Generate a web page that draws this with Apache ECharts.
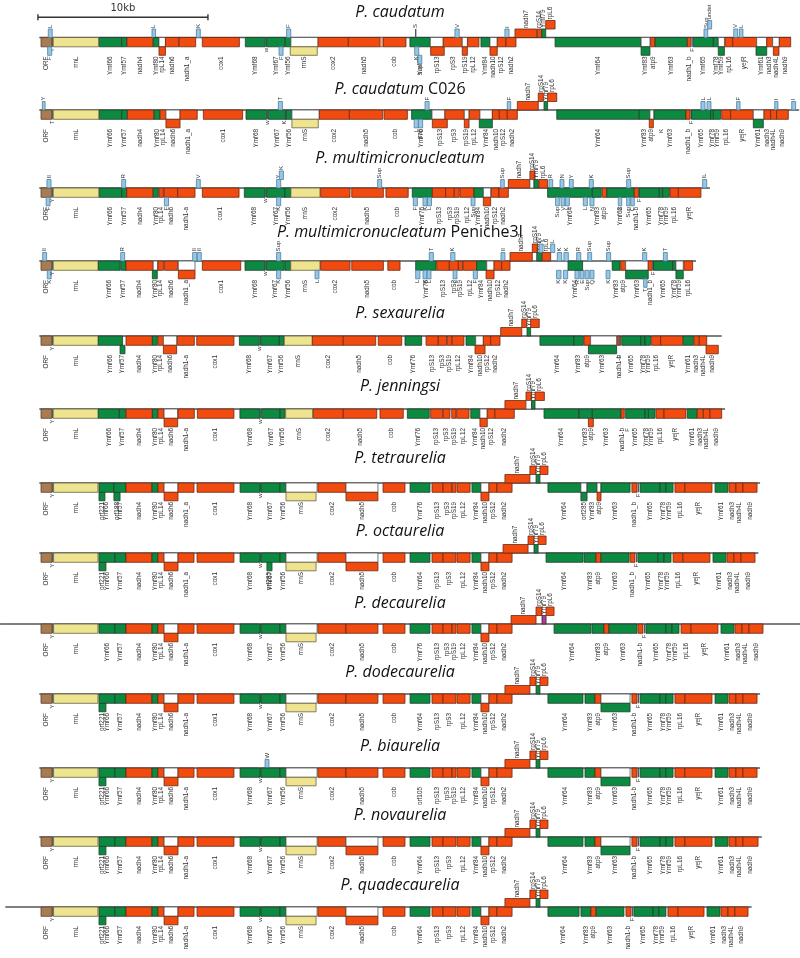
<!DOCTYPE html>
<html><head><meta charset="utf-8">
<script src="https://cdn.jsdelivr.net/npm/echarts@6/dist/echarts.min.js"></script>
<style>html,body{margin:0;padding:0;background:#fff}#c{width:800px;height:958px}</style>
</head><body><div id="c"></div>
<script>
// ---- DATA (positions in kb from genome start) ----
// each gene: [label, startKb, endKb, type, row]
// type: O=ORF, R=rRNA, G=green ORF, P=protein gene, T=tRNA, D=small tRNA, W=empty box, S=small, M=purple
const titles = [
  ['P. caudatum',''],['P. caudatum',' C026'],['P. multimicronucleatum',''],['P. multimicronucleatum',' Peniche3I'],
  ['P. sexaurelia',''],['P. jenningsi',''],['P. tetraurelia',''],['P. octaurelia',''],['P. decaurelia',''],
  ['P. dodecaurelia',''],['P. biaurelia',''],['P. novaurelia',''],['P. quadecaurelia','']
];
const lineSpan = [[-0.1,44.12],[-0.1,44.6],[-0.1,39.35],[-0.1,38.53],[-0.1,40.04],[-0.1,40.24],[-0.1,42.3],
  [-0.1,42.2],[-2.41,44.65],[-0.1,42.3],[-0.1,42.3],[-0.1,42.4],[-2.1,41.8]];
const scaleBar = [-0.18, 9.82];

const caudatum = [
['ORF',0,0.63,'O',0],['Y',0.63,0.72,'D',0],['L',0.43,0.66,'T',-1],['F',0.39,0.63,'T',1],['rrnL',0.72,3.39,'R',0],
['Ymf66',3.43,4.75,'G',0],['Ymf57',4.75,5.04,'G',0],['nadh4',5.06,6.6,'P',0],['L',6.53,6.74,'T',-1],['Ymf80',6.6,6.94,'G',0],
['',6.94,7.32,'W',0],['rpL14',6.94,7.32,'P',1],['nadh6',7.32,8.1,'P',0],['nadh1_a',8.12,9.1,'P',0],['K',9.14,9.37,'T',-1],
['cox1',9.49,11.67,'P',0],['Ymf68',12.02,13.19,'G',0],['w',13.19,13.27,'D',0],['Ymf67',13.27,14.35,'G',0],['F',14.0,14.24,'T',1],
['Ymf56',14.38,14.7,'G',0],['F',14.45,14.69,'T',-1],['',14.7,16.3,'W',0],['rrnS',14.66,16.25,'R',1],['cox2',16.3,18.08,'P',0],
['nadh5',18.08,19.94,'P',0],['',19.94,20.14,'S',0],['cob',20.14,21.47,'P',0],['Ymf76',21.7,22.9,'G',0],['S',22.0,22.08,'D',-1],
['K',21.98,22.22,'T',1],['Sup',22.18,22.4,'T',2],['',22.9,23.66,'W',0],['rpS13',22.92,23.72,'P',1],['rpS3',23.66,24.78,'P',0],
['V',24.35,24.6,'T',-1],['',24.78,25.08,'W',0],['rpS19',24.78,25.08,'P',1],['rpL12',25.1,25.76,'P',0],['Ymf84',25.88,26.41,'G',0],
['',26.41,26.84,'W',0],['nadh10',26.41,26.84,'P',1],['rpS12',26.84,27.35,'P',0],['I',27.29,27.53,'T',-1],['nadh2',27.35,27.94,'P',0],
['nadh7',27.88,29.16,'P',-1],['rpS14',29.2,29.45,'P',-1],['Ymf79',29.45,29.69,'G',-1],['rpL6',29.69,30.24,'P',-2],
['Ymf64',30.24,35.3,'G',0],['',35.3,35.82,'W',0],['Ymf83',35.3,35.82,'G',1],['atp9',35.86,36.12,'P',0],['Ymf63',36.12,38.02,'G',0],
['nadh1_b',38.02,38.22,'P',0],['F',38.26,38.32,'D',0],['Ymf65',38.37,39.55,'G',0],['Sup',39.0,39.22,'T',-1],['undet',39.22,39.45,'T',-2],
['Ymf78',39.55,39.84,'G',0],['',39.84,40.2,'W',0],['Ymf59',39.84,40.2,'G',1],['rpL16',40.24,40.69,'P',0],['yejR',40.69,42.1,'P',0],
['V',40.75,40.98,'T',-1],['L',41.08,41.29,'T',-1],['',42.1,42.69,'W',0],['Ymf61',42.06,42.69,'G',1],['nadh3',42.69,43.04,'P',0],
['',43.04,43.43,'W',0],['nadh4L',43.08,43.41,'P',1],['nadh9',43.43,44.1,'P',0]
];
const caudatumC026 = [
['ORF',0,0.63,'O',0],['Y',0.08,0.24,'T',-1],['T',0.63,0.72,'D',0],['rrnL',0.72,3.41,'R',0],['Ymf66',3.43,4.75,'G',0],
['Ymf57',4.75,5.08,'G',0],['nadh4',5.08,6.65,'P',0],['Ymf80',6.65,7.0,'G',0],['rpL14',7.0,7.35,'P',0],['',7.35,8.18,'W',0],
['nadh6',7.35,8.18,'P',1],['nadh1_a',8.18,9.19,'P',0],['cox1',9.55,11.86,'P',0],['Ymf68',12.06,13.27,'G',0],['w',13.27,13.35,'D',0],
['Ymf67',13.37,14.41,'G',0],['T',13.96,14.2,'T',-1],['K',14.3,14.38,'D',0],['Ymf56',14.41,14.76,'G',0],['',14.76,16.37,'W',0],
['rrnS',14.76,16.31,'R',1],['cox2',16.37,18.14,'P',0],['nadh5',18.14,20.1,'P',0],['cob',20.18,21.55,'P',0],['Ymf76',21.8,22.98,'G',0],
['F',22.59,22.83,'T',-1],['L',21.95,22.2,'T',1],['Sup',22.2,22.45,'T',1],['',23.0,23.76,'W',0],['rpS13',23.02,23.9,'P',1],
['rpS3',23.76,24.9,'P',0],['',24.9,25.18,'W',0],['rpS19',24.9,25.18,'P',1],['rpL12',25.19,25.82,'P',0],['',25.82,26.55,'W',0],
['Ymf84',25.78,26.55,'G',1],['nadh10',26.55,26.96,'P',0],['rpS12',26.96,27.43,'P',0],['F',27.43,27.63,'T',-1],['nadh2',27.43,28.02,'P',0],
['nadh7',28.02,29.25,'P',-1],['rpS14',29.25,29.55,'P',-2],['Ymf79',29.59,29.8,'G',-1],['rpL6',29.8,30.34,'P',-2],
['Ymf64',30.34,35.19,'G',0],['Ymf83',35.19,35.82,'G',0],['',35.82,36.06,'W',0],['atp9',35.78,36.02,'P',1],['K',36.45,36.52,'D',1],
['Ymf63',36.06,37.94,'G',0],['nadh1_b',37.94,38.18,'P',0],['F',38.2,38.26,'D',0],['Ymf65',38.27,39.39,'G',0],['L',38.82,39.06,'T',-1],
['L',39.18,39.41,'T',-1],['Ymf78',39.39,39.55,'G',0],['Ymf59',39.55,39.98,'G',0],['rpL16',40.04,40.57,'P',0],['yejR',40.57,41.9,'P',0],
['F',40.92,41.12,'T',-1],['',41.9,42.53,'W',0],['Ymf61',41.9,42.49,'G',1],['nadh3',42.53,42.92,'P',0],['nadh4L',42.92,43.27,'P',0],
['I',43.16,43.35,'T',-1],['nadh9',43.27,43.96,'P',0],['I',44.16,44.39,'T',-1]
];
const multimicronucleatum = [
['ORF',0,0.63,'O',0],['II',0.35,0.59,'T',-1],['F',0.3,0.53,'T',1],['Y',0.63,0.72,'D',0],['rrnL',0.72,3.41,'R',0],
['Ymf66',3.43,4.75,'G',0],['Ymf57',4.75,5.04,'G',0],['R',4.75,4.98,'T',-1],['nadh4',5.04,6.6,'P',0],['Ymf80',6.6,6.9,'G',0],
['rpL14',6.94,7.2,'P',0],['nadh6',7.24,8.04,'P',0],['F',7.26,7.5,'T',1],['nadh1-a',8.04,9.06,'P',0],['V',9.14,9.37,'T',-1],
['cox1',9.49,11.65,'P',0],['Ymf68',11.96,13.18,'G',0],['w',13.18,13.25,'D',0],['Ymf67',13.27,14.35,'G',0],['Y',13.86,14.1,'T',-1],
['K',14.02,14.26,'T',-2],['K',13.86,14.1,'T',1],['Ymf56',14.35,14.69,'G',0],['rrnS',14.7,16.41,'R',0],['cox2',16.45,18.18,'P',0],
['nadh5',18.28,20.14,'P',0],['Sup',19.8,20.04,'T',-1],['cob',20.29,21.6,'P',0],['Ymf76',21.84,23.02,'G',0],['F',21.9,22.14,'T',1],
['K',22.47,22.71,'T',1],['L',22.73,22.97,'T',1],['rpS13',23.02,23.8,'P',0],['rpS3',23.8,24.31,'P',0],['rpS19',24.31,24.6,'P',0],
['rpL12',24.65,25.47,'P',0],['Sup',25.3,25.53,'T',1],['Ymf84',25.47,26.02,'G',0],['',26.02,26.45,'W',0],['nadh10',26.02,26.45,'P',1],
['rpS12',26.49,26.94,'P',0],['nadh2',26.94,27.49,'P',0],['Sup',27.04,27.25,'T',-1],['nadh7',27.49,28.76,'P',-1],['rpS14',28.76,29.06,'P',-2],
['',28.76,29.0,'W',-1],['Ymf79',29.0,29.25,'G',-1],['rpL6',29.29,29.8,'P',-1],['R',29.88,30.1,'T',-1],['Ymf64',29.8,32.43,'G',0],
['N',30.53,30.76,'T',-1],['Y',31.08,31.31,'T',-1],['K',32.25,32.49,'T',-1],['Sup',30.27,30.49,'T',1],['V',30.59,30.82,'T',1],
['L',30.84,31.08,'T',1],['L',31.9,32.14,'T',1],['N',32.29,32.53,'T',1],['Ymf83',32.43,32.96,'G',0],['atp9',33.02,33.28,'P',0],
['Ymf63',33.28,34.9,'G',0],['Sup',34.45,34.69,'T',-1],['E',33.96,34.16,'T',1],['Sup',34.45,34.65,'T',1],['C',34.69,34.9,'T',1],
['nadh1-b',34.9,35.14,'P',0],['F',35.16,35.22,'D',0],['Ymf65',35.19,36.37,'G',0],['Ymf78',36.37,36.57,'G',0],['Ymf59',36.57,36.96,'G',0],
['rpL16',37.0,37.49,'P',0],['yejR',37.49,38.82,'P',0],['IL',38.92,39.16,'T',-1]
];
const peniche3I = [
['ORF',0,0.63,'O',0],['II',0.1,0.33,'T',-1],['K',0.37,0.6,'T',1],['Y',0.63,0.72,'D',0],['rrnL',0.72,3.37,'R',0],
['Ymf66',3.37,4.65,'G',0],['Ymf57',4.69,5.0,'G',0],['R',4.69,4.92,'T',-1],['nadh4',5.0,6.6,'P',0],['',6.6,6.86,'W',0],
['Ymf80',6.55,6.84,'G',1],['rpL14',6.88,7.2,'P',0],['nadh6',7.26,8.04,'P',0],['',8.08,9.06,'W',0],['nadh1_a',8.08,9.06,'P',1],
['II',8.92,9.16,'T',-1],['II',9.2,9.43,'T',-1],['cox1',9.49,11.75,'P',0],['Ymf68',12.0,13.18,'G',0],['w',13.18,13.25,'D',0],
['Ymf67',13.27,14.31,'G',0],['Sup',13.86,14.1,'T',-1],['K',13.86,14.1,'T',1],['Ymf56',14.35,14.69,'G',0],['rrnS',14.69,16.41,'R',0],
['L',16.12,16.35,'T',1],['cox2',16.45,18.18,'P',0],['nadh5',18.28,20.14,'P',0],['cob',20.4,21.12,'P',0],['Ymf76',22.04,23.24,'G',0],
['T',22.84,23.08,'T',-1],['L',22.04,22.29,'T',1],['K',22.47,22.71,'T',1],['L',22.71,22.94,'T',1],['rpS13',23.28,24.02,'P',0],
['rpS3',24.02,24.55,'P',0],['K',24.1,24.35,'T',-1],['L',24.24,24.47,'T',1],['rpS19',24.55,24.8,'P',0],['rpL12',24.84,25.63,'P',0],
['F',25.43,25.67,'T',1],['Ymf84',25.63,26.22,'G',0],['',26.22,26.65,'W',0],['nadh10',26.18,26.65,'P',1],['rpS12',26.65,27.1,'P',0],
['II',27.06,27.29,'T',-1],['nadh2',27.1,27.59,'P',0],['nadh7',27.59,28.9,'P',-1],['rpS14',28.9,29.22,'P',-2],['Ymf79',29.16,29.45,'G',-1],
['V',29.3,29.53,'T',-2],['rpL6',29.49,29.98,'P',-1],['L',29.98,30.22,'T',-2],['K',30.37,30.63,'T',-1],['K',30.76,31.02,'T',-1],
['R',31.51,31.75,'T',-1],['Sup',32.16,32.39,'T',-1],['Sup',33.27,33.51,'T',-1],['K',30.33,30.59,'T',1],['K',30.73,30.98,'T',1],
['R',31.41,31.65,'T',1],['E',31.71,31.94,'T',1],['Sup',32.0,32.24,'T',1],['Q',32.29,32.53,'T',1],['K',33.24,33.47,'T',1],
['Ymf64',31.0,31.86,'G',0],['Ymf83',33.6,34.06,'G',0],['atp9',34.1,34.39,'P',0],['',34.39,35.72,'W',0],['Ymf63',34.39,35.72,'G',1],
['K',35.39,35.63,'T',-1],['T',35.45,35.65,'T',2],['nadh1_b',35.72,35.96,'P',0],['F',35.98,36.04,'D',0],['Ymf65',36.02,37.16,'G',0],
['T',36.61,36.84,'T',-1],['Ymf78',37.16,37.35,'G',0],['',37.35,37.78,'W',0],['Ymf59',37.35,37.78,'G',1],['rpL16',37.82,38.33,'P',0]
];
const sexaurelia = [
['ORF',0,0.63,'O',0],['Y',0.63,0.72,'D',0],['rrnL',0.72,3.37,'R',0],['Ymf66',3.37,4.8,'G',0],['Ymf57',4.65,4.94,'G',1],
['nadh4',5.0,6.55,'P',0],['Ymf80',6.55,6.84,'G',0],['rpL14',6.88,7.2,'P',0],['',7.2,7.98,'W',0],['nadh6',7.2,7.98,'P',1],
['nadh1-a',8.02,9.02,'P',0],['cox1',9.16,11.35,'P',0],['Ymf68',11.67,12.84,'G',0],['w',12.84,12.9,'D',0],['Ymf67',12.92,14.02,'G',0],
['Ymf56',14.02,14.3,'G',0],['rrnS',14.31,15.96,'R',0],['cox2',15.96,17.78,'P',0],['nadh5',17.78,19.69,'P',0],['cob',19.84,21.22,'P',0],
['Ymf76',21.41,22.39,'G',0],['rpS13',22.65,23.37,'P',0],['rpS3',23.37,23.86,'P',0],['rpS19',23.9,24.16,'P',0],['rpL12',24.19,24.88,'P',0],
['Ymf84',25.0,25.57,'G',0],['',25.57,26.02,'W',0],['nadh10',25.53,26.12,'P',1],['rpS12',26.02,26.45,'P',0],['nadh2',26.45,27.0,'P',0],
['nadh7',27.04,28.28,'P',-1],['rpS14',28.28,28.57,'P',-2],['Ymf79',28.59,28.8,'G',-1],['rpL6',28.8,29.31,'P',-2],
['Ymf64',29.35,31.35,'G',0],['Ymf83',31.35,31.9,'G',0],['atp9',31.94,32.33,'P',0],['',32.33,33.86,'W',0],['Ymf63',32.2,33.86,'G',1],
['nadh1-b',33.9,34.1,'P',0],['F',33.98,34.04,'D',1],['Ymf65',34.16,35.28,'G',0],['Ymf78',35.28,35.53,'G',0],['Ymf59',35.53,35.86,'G',0],
['rpL16',35.92,36.45,'P',0],['yejR',36.45,37.75,'P',0],['Ymf61',37.78,38.37,'G',0],['nadh3',38.41,38.72,'P',0],['nadh4L',38.72,39.16,'P',0],
['nadh9',39.12,39.84,'P',1]
];
const jenningsi = [
['ORF',0,0.63,'O',0],['Y',0.63,0.72,'D',0],['rrnL',0.72,3.37,'R',0],['Ymf66',3.37,4.61,'G',0],['Ymf57',4.61,4.98,'G',0],
['nadh4',5.0,6.55,'P',0],['Ymf80',6.55,6.86,'G',0],['rpL14',6.88,7.24,'P',0],['',7.24,8.04,'W',0],['nadh6',7.24,8.04,'P',1],
['nadh1-a',8.06,9.02,'P',0],['cox1',9.2,11.35,'P',0],['Ymf68',11.7,12.88,'G',0],['w',12.88,12.96,'D',0],['Ymf67',12.98,14.06,'G',0],
['Ymf56',14.06,14.35,'G',0],['rrnS',14.39,15.98,'R',0],['cox2',16.02,17.78,'P',0],['nadh5',17.78,19.75,'P',0],['cob',19.94,21.31,'P',0],
['Ymf76',21.55,22.84,'G',0],['rpS13',22.92,23.63,'P',0],['rpS3',23.66,24.06,'P',0],['rpS19',24.16,24.41,'P',0],['rpL12',24.45,25.18,'P',0],
['Ymf84',25.28,25.82,'G',0],['',25.82,26.25,'W',0],['nadh10',25.82,26.25,'P',1],['rpS12',26.25,26.7,'P',0],['nadh2',26.7,27.84,'P',0],
['nadh7',27.29,28.57,'P',-1],['rpS14',28.53,28.86,'P',-2],['',28.53,28.86,'W',-1],['Ymf79',28.86,29.06,'G',-1],['rpL6',29.06,29.61,'P',-2],
['Ymf64',29.59,31.65,'G',0],['Ymf83',31.65,32.43,'G',0],['atp9',32.2,32.49,'P',1],['Ymf63',32.43,34.12,'G',0],['nadh1-b',34.12,34.31,'P',0],
['F',34.45,34.5,'D',1],['Ymf65',34.39,35.53,'G',0],['Ymf78',35.53,35.73,'G',0],['Ymf59',35.73,36.12,'G',0],['rpL16',36.18,36.65,'P',0],
['yejR',36.65,37.94,'P',0],['Ymf61',38.02,38.6,'G',0],['nadh3',38.6,38.96,'P',0],['nadh4L',38.96,39.35,'P',0],['nadh9',39.35,40.04,'P',0]
];
const tetraurelia = [
['ORF',0,0.65,'O',0],['Y',0.65,0.74,'D',0],['rrnL',0.74,3.35,'R',0],['orf221',3.41,3.76,'G',1],['Ymf66',3.41,4.29,'G',0],
['orf188',4.29,4.65,'G',1],['Ymf57',4.29,5.0,'G',0],['nadh4',5.0,6.53,'P',0],['Ymf80',6.53,6.88,'G',0],['rpL14',6.88,7.24,'P',0],
['',7.24,8.06,'W',0],['nadh6',7.24,8.06,'P',1],['nadh1_a',8.06,9.0,'P',0],['cox1',9.18,11.35,'P',0],['Ymf68',11.71,12.88,'G',0],
['w',12.88,12.94,'D',0],['Ymf67',12.94,14.06,'G',0],['Ymf56',14.06,14.41,'G',0],['',14.41,16.24,'W',0],['rrnS',14.41,16.18,'R',1],
['cox2',16.29,17.94,'P',0],['',17.94,19.82,'W',0],['nadh5',17.94,19.82,'P',1],['cob',20.12,21.41,'P',0],['Ymf76',21.71,22.88,'G',0],
['rpS13',23.0,23.65,'P',0],['rpS3',23.65,24.18,'P',0],['rpS19',24.18,24.41,'P',0],['rpL12',24.47,25.24,'P',0],['Ymf84',25.35,25.88,'G',0],
['',25.88,26.35,'W',0],['nadh10',25.88,26.35,'P',1],['rpS12',26.35,26.82,'P',0],['nadh2',26.82,27.71,'P',0],['nadh7',27.29,28.76,'P',-1],
['rpS14',28.76,29.12,'P',-2],['Ymf79',29.12,29.35,'G',-1],['rpL6',29.35,29.82,'P',-2],['Ymf64',29.82,31.76,'G',0],['',31.76,32.12,'W',0],
['orf285',31.76,32.12,'G',1],['Ymf83',32.12,32.71,'G',0],['',32.71,32.94,'W',0],['atp9',32.71,32.94,'P',1],['Ymf63',32.94,34.65,'G',0],
['nadh1_b',34.76,35.06,'P',0],['F',35.1,35.15,'D',0],['Ymf65',35.24,36.41,'G',0],['Ymf78',36.41,36.76,'G',0],['Ymf59',36.76,37.18,'G',0],
['rpL16',37.29,37.88,'P',0],['yejR',37.88,39.47,'P',0],['Ymf61',39.65,40.41,'G',0],['nadh3',40.47,40.88,'P',0],['nadh4L',40.88,41.29,'P',0],
['nadh9',41.29,42.12,'P',0]
];
const octaurelia = [
['ORF',0,0.65,'O',0],['Y',0.65,0.74,'D',0],['rrnL',0.74,3.35,'R',0],['orf221',3.41,3.82,'G',1],['Ymf66',3.41,4.35,'G',0],
['Ymf57',4.35,5.0,'G',0],['nadh4',5.0,6.53,'P',0],['Ymf80',6.53,6.88,'G',0],['rpL14',6.88,7.24,'P',0],['',7.24,8.06,'W',0],
['nadh6',7.24,8.06,'P',1],['nadh1_a',8.06,9.0,'P',0],['cox1',9.18,11.35,'P',0],['Ymf68',11.71,12.88,'G',0],['w',12.88,12.94,'D',0],
['orf285',13.29,13.59,'G',1],['Ymf67',12.94,14.06,'G',0],['Ymf56',14.06,14.41,'G',0],['',14.41,16.24,'W',0],['rrnS',14.41,16.18,'R',1],
['cox2',16.29,17.94,'P',0],['',17.94,19.82,'W',0],['nadh5',17.94,19.82,'P',1],['cob',20.12,21.41,'P',0],['Ymf64',21.71,22.88,'G',0],
['rpS13',23.0,23.65,'P',0],['rpS3',23.65,24.41,'P',0],['rpL12',24.47,25.24,'P',0],['Ymf84',25.35,25.88,'G',0],['',25.88,26.35,'W',0],
['nadh10',25.88,26.35,'P',1],['rpS12',26.35,26.82,'P',0],['nadh2',26.82,27.71,'P',0],['nadh7',27.18,28.65,'P',-1],['rpS14',28.65,29.0,'P',-2],
['Ymf79',29.0,29.24,'G',-1],['rpL6',29.24,29.71,'P',-2],['Ymf64',29.71,31.88,'G',0],['Ymf83',31.94,32.65,'G',0],['atp9',32.65,32.94,'P',0],
['Ymf63',32.94,34.59,'G',0],['nadh1_b',34.65,34.94,'P',0],['F',35.0,35.05,'D',0],['Ymf65',35.12,36.29,'G',0],['Ymf78',36.29,36.65,'G',0],
['Ymf59',36.65,37.06,'G',0],['rpL16',37.18,37.76,'P',0],['yejR',37.76,39.35,'P',0],['Ymf61',39.53,40.29,'G',0],['nadh3',40.35,40.76,'P',0],
['nadh4L',40.76,41.18,'P',0],['nadh9',41.18,42.0,'P',0]
];
const decaurelia = [
['ORF',0,0.65,'O',0],['Y',0.65,0.74,'D',0],['rrnL',0.74,3.35,'R',0],['Ymf66',3.41,4.35,'G',0],['Ymf57',4.35,5.0,'G',0],
['nadh4',5.0,6.53,'P',0],['Ymf80',6.53,6.88,'G',0],['rpL14',6.88,7.24,'P',0],['',7.24,8.06,'W',0],['nadh6',7.24,8.06,'P',1],
['nadh1-a',8.06,9.0,'P',0],['cox1',9.18,11.35,'P',0],['Ymf68',11.71,12.88,'G',0],['w',12.88,12.94,'D',0],['Ymf67',12.94,14.06,'G',0],
['Ymf56',14.06,14.41,'G',0],['',14.41,16.24,'W',0],['rrnS',14.41,16.18,'R',1],['cox2',16.29,17.94,'P',0],['nadh5',17.94,19.82,'P',0],
['cob',20.12,21.41,'P',0],['Ymf76',21.71,22.88,'G',0],['rpS13',23.0,23.65,'P',0],['rpS3',23.65,24.18,'P',0],['rpS19',24.18,24.41,'P',0],
['rpL12',24.47,25.24,'P',0],['Ymf84',25.35,25.88,'G',0],['',25.88,26.35,'W',0],['nadh10',25.88,26.35,'P',1],['rpS12',26.35,26.82,'P',0],
['nadh2',26.82,27.71,'P',0],['nadh7',27.65,29.12,'P',-1],['rpS14',29.12,29.47,'P',-2],['Ymf79',29.47,29.71,'M',-1],['rpL6',29.71,30.18,'P',-2],
['Ymf64',30.18,32.35,'G',0],['Ymf83',32.41,33.12,'G',0],['atp9',33.12,33.41,'P',0],['Ymf63',33.41,35.06,'G',0],['nadh1-b',35.12,35.41,'P',0],
['F',35.47,35.52,'D',0],['Ymf65',35.59,36.76,'G',0],['Ymf78',36.76,37.12,'G',0],['Ymf59',37.12,37.53,'G',0],['rpL16',37.65,38.24,'P',0],
['yejR',38.24,39.82,'P',0],['Ymf61',40.0,40.76,'G',0],['nadh3',40.82,41.24,'P',0],['nadh4L',41.24,41.65,'P',0],['nadh9',41.65,42.47,'P',0]
];
const dodecaurelia = [
['ORF',0,0.65,'O',0],['Y',0.65,0.74,'D',0],['rrnL',0.74,3.35,'R',0],['orf221',3.41,3.82,'G',1],['Ymf66',3.41,4.35,'G',0],
['Ymf57',4.35,5.0,'G',0],['nadh4',5.0,6.53,'P',0],['Ymf80',6.53,6.88,'G',0],['rpL14',6.88,7.24,'P',0],['',7.24,8.06,'W',0],
['nadh6',7.24,8.06,'P',1],['nadh1-a',8.06,9.0,'P',0],['cox1',9.18,11.35,'P',0],['Ymf68',11.71,12.88,'G',0],['w',12.88,12.94,'D',0],
['Ymf67',12.94,14.06,'G',0],['Ymf56',14.06,14.41,'G',0],['',14.41,16.24,'W',0],['rrnS',14.41,16.18,'R',1],['cox2',16.29,17.94,'P',0],
['nadh5',17.94,19.82,'P',0],['cob',20.12,21.41,'P',0],['Ymf64',21.71,22.88,'G',0],['rpS13',23.0,23.65,'P',0],['rpS3',23.65,24.41,'P',0],
['rpL12',24.47,25.24,'P',0],['Ymf84',25.35,25.88,'G',0],['',25.88,26.35,'W',0],['nadh10',25.88,26.35,'P',1],['rpS12',26.35,26.82,'P',0],
['nadh2',26.82,27.71,'P',0],['nadh7',27.29,28.76,'P',-1],['rpS14',28.76,29.12,'P',-2],['Ymf79',29.12,29.35,'G',-1],['rpL6',29.35,29.82,'P',-2],
['Ymf64',29.82,31.88,'G',0],['Ymf83',32.0,32.59,'G',0],['atp9',32.59,32.94,'P',0],['',32.94,34.65,'W',0],['Ymf63',32.94,34.65,'G',1],
['nadh1-b',34.76,35.06,'P',0],['F',35.1,35.15,'D',0],['Ymf65',35.24,36.41,'G',0],['Ymf78',36.41,36.76,'G',0],['Ymf59',36.76,37.18,'G',0],
['rpL16',37.29,37.88,'P',0],['yejR',37.88,39.47,'P',0],['Ymf61',39.65,40.41,'G',0],['nadh3',40.47,40.88,'P',0],['nadh4L',40.88,41.29,'P',0],
['nadh9',41.29,42.12,'P',0]
];
const biaurelia = [
['ORF',0,0.65,'O',0],['Y',0.65,0.74,'D',0],['rrnL',0.74,3.35,'R',0],['orf221',3.41,3.82,'G',1],['Ymf66',3.41,4.35,'G',0],
['Ymf57',4.35,5.0,'G',0],['nadh4',5.0,6.53,'P',0],['Ymf80',6.53,6.88,'G',0],['rpL14',6.88,7.24,'P',0],['',7.24,8.06,'W',0],
['nadh6',7.24,8.06,'P',1],['nadh1-a',8.06,9.0,'P',0],['cox1',9.18,11.35,'P',0],['Ymf68',11.71,12.88,'G',0],['w',12.88,12.94,'D',0],
['W',13.18,13.41,'T',-1],['Ymf67',12.94,14.06,'G',0],['Ymf56',14.06,14.41,'G',0],['',14.41,16.24,'W',0],['rrnS',14.41,16.18,'R',1],
['cox2',16.29,17.94,'P',0],['nadh5',17.94,19.82,'P',0],['cob',20.12,21.41,'P',0],['orf105',21.71,22.88,'G',0],['rpS13',23.0,23.65,'P',0],
['rpS3',23.65,24.18,'P',0],['rpS19',24.18,24.41,'P',0],['rpL12',24.47,25.24,'P',0],['Ymf84',25.35,25.88,'G',0],['',25.88,26.35,'W',0],
['nadh10',25.88,26.35,'P',1],['rpS12',26.35,26.82,'P',0],['nadh2',26.82,27.71,'P',0],['nadh7',27.29,28.76,'P',-1],['rpS14',28.76,29.12,'P',-2],
['Ymf79',29.12,29.35,'G',-1],['rpL6',29.35,29.82,'P',-2],['Ymf64',29.82,31.88,'G',0],['Ymf83',32.0,32.59,'G',0],['atp9',32.59,32.94,'P',0],
['',32.94,34.65,'W',0],['Ymf63',32.94,34.65,'G',1],['nadh1-b',34.76,35.06,'P',0],['F',35.1,35.15,'D',0],['Ymf65',35.24,36.41,'G',0],
['Ymf78',36.41,36.76,'G',0],['Ymf59',36.76,37.18,'G',0],['rpL16',37.29,37.88,'P',0],['yejR',37.88,39.47,'P',0],['Ymf61',39.65,40.41,'G',0],
['nadh3',40.47,40.88,'P',0],['nadh4L',40.88,41.29,'P',0],['nadh9',41.29,42.12,'P',0]
];
const novaurelia = [
['ORF',0,0.65,'O',0],['Y',0.65,0.74,'D',0],['rrnL',0.74,3.35,'R',0],['orf221',3.41,3.82,'G',1],['Ymf66',3.41,4.35,'G',0],
['Ymf57',4.35,5.0,'G',0],['nadh4',5.0,6.53,'P',0],['Ymf80',6.53,6.88,'G',0],['rpL14',6.88,7.24,'P',0],['',7.24,8.06,'W',0],
['nadh6',7.24,8.06,'P',1],['nadh1-a',8.06,9.0,'P',0],['cox1',9.18,11.35,'P',0],['Ymf68',11.71,12.88,'G',0],['w',12.88,12.94,'D',0],
['Ymf67',12.94,14.06,'G',0],['Ymf56',14.06,14.41,'G',0],['',14.41,16.24,'W',0],['rrnS',14.41,16.18,'R',1],['cox2',16.29,17.94,'P',0],
['',17.94,19.82,'W',0],['nadh5',17.94,19.82,'P',1],['cob',20.12,21.41,'P',0],['Ymf64',21.71,22.88,'G',0],['rpS13',23.0,23.65,'P',0],
['rpS3',23.65,24.41,'P',0],['rpL12',24.47,25.24,'P',0],['Ymf84',25.35,25.88,'G',0],['',25.88,26.35,'W',0],['nadh10',25.88,26.35,'P',1],
['rpS12',26.35,26.82,'P',0],['nadh2',26.82,27.71,'P',0],['nadh7',27.29,28.76,'P',-1],['rpS14',28.76,29.12,'P',-2],['Ymf79',29.12,29.35,'G',-1],
['rpL6',29.35,29.82,'P',-2],['Ymf64',29.82,31.88,'G',0],['Ymf83',32.0,32.59,'G',0],['atp9',32.59,32.94,'P',0],['',32.94,34.65,'W',0],
['Ymf63',32.94,34.65,'G',1],['nadh1-b',34.76,35.06,'P',0],['F',35.1,35.15,'D',0],['Ymf65',35.24,36.41,'G',0],['Ymf78',36.41,36.76,'G',0],
['Ymf59',36.76,37.18,'G',0],['rpL16',37.29,37.88,'P',0],['yejR',37.88,39.47,'P',0],['Ymf61',39.65,40.41,'G',0],['nadh3',40.47,40.88,'P',0],
['nadh4L',40.88,41.29,'P',0],['nadh9',41.29,42.18,'P',0]
];
const quadecaurelia = [
['ORF',0,0.65,'O',0],['Y',0.65,0.74,'D',0],['rrnL',0.74,3.35,'R',0],['orf221',3.41,3.82,'G',1],['Ymf66',3.41,4.35,'G',0],
['Ymf57',4.35,5.0,'G',0],['nadh4',5.0,6.53,'P',0],['Ymf80',6.53,6.88,'G',0],['rpL14',6.88,7.24,'P',0],['',7.24,8.06,'W',0],
['nadh6',7.24,8.06,'P',1],['nadh1-a',8.06,9.0,'P',0],['cox1',9.18,11.35,'P',0],['Ymf68',11.71,12.88,'G',0],['w',12.88,12.94,'D',0],
['Ymf67',12.94,14.06,'G',0],['Ymf56',14.06,14.41,'G',0],['',14.41,16.24,'W',0],['rrnS',14.41,16.18,'R',1],['cox2',16.29,17.94,'P',0],
['',17.94,19.82,'W',0],['nadh5',17.94,19.82,'P',1],['cob',20.12,21.41,'P',0],['Ymf64',21.71,22.88,'G',0],['rpS13',23.0,23.65,'P',0],
['rpS3',23.65,24.41,'P',0],['rpL12',24.47,25.24,'P',0],['Ymf84',25.35,25.88,'G',0],['',25.88,26.35,'W',0],['nadh10',25.88,26.35,'P',1],
['rpS12',26.35,26.82,'P',0],['nadh2',26.82,27.71,'P',0],['nadh7',27.29,28.76,'P',-1],['rpS14',28.76,29.12,'P',-2],['Ymf79',29.12,29.35,'G',-1],
['rpL6',29.35,29.82,'P',-2],['Ymf64',29.82,31.65,'G',0],['Ymf83',31.76,32.35,'G',0],['atp9',32.35,32.65,'P',0],['Ymf63',32.65,34.29,'G',0],
['nadh1-b',34.41,34.71,'P',0],['F',34.76,34.81,'D',0],['Ymf65',34.88,36.0,'G',0],['Ymf78',36.0,36.35,'G',0],['Ymf59',36.35,36.76,'G',0],
['rpL16',36.88,37.47,'P',0],['yejR',37.47,39.0,'P',0],['Ymf61',39.18,39.94,'G',0],['nadh3',40.0,40.41,'P',0],['nadh4L',40.41,40.82,'P',0],
['nadh9',40.82,41.59,'P',0]
];
const tracks = [caudatum, caudatumC026, multimicronucleatum, peniche3I, sexaurelia, jenningsi, tetraurelia,
  octaurelia, decaurelia, dodecaurelia, biaurelia, novaurelia, quadecaurelia];

// ---- LAYOUT / STYLE ----
const trackLineY = [37.5,110,188,261,336,409,483,553,624,694,768,837,907];
const titleY = [12.5,89,158,232,313,386,458,531,603,672,746,815,885];
const ROWS = {'-2':[-17,-8.5],'-1':[-8.5,0],'0':[0,9.3],'1':[9.3,17.8],'2':[17.8,26.3]};
const COL = {O:'#a87b50',R:'#eee38e',G:'#0d8a42',P:'#f24b0f',T:'#96c8e6',W:'#ffffff',S:'#f4a27c',M:'#a83f8f',D:'#4d5a66'};
const STROKE = {O:'#5a4030',R:'#6a6040',G:'#1f3f2a',P:'#6a2a14',T:'#4f7f9f',W:'#555',S:'#8a5a40',M:'#502040',D:'#4d5a66'};
const LABEL_FONT = 'Liberation Sans';

const geneData = [];
tracks.forEach((tr, t) => tr.forEach((g, i) => geneData.push([g[1], g[2], t, i])));
const lineData = lineSpan.map((s, t) => [s[0], s[1], t]);

function renderGene(params, api) {
  const t = api.value(2), i = api.value(3);
  const g = tracks[t][i];
  const label = g[0], type = g[3], row = g[4];
  const x0 = api.coord([api.value(0), 0])[0];
  const x1 = api.coord([api.value(1), 0])[0];
  const base = api.coord([0, trackLineY[t]])[1];
  const r = ROWS[String(row)];
  const y0 = base + r[0], y1 = base + r[1];
  const ch = [];
  if (type === 'D') {
    ch.push({type:'rect', shape:{x:x0, y:base, width:Math.max(x1-x0,1.4), height:(row<0? -8.5 : 9.3)}, style:{fill:COL.D}});
  } else {
    ch.push({type:'rect', shape:{x:x0, y:y0, width:Math.max(x1-x0,1), height:y1-y0},
      style:{fill:COL[type], stroke:STROKE[type], lineWidth:0.8}});
  }
  if (label) {
    const cx = (x0 + x1) / 2;
    let ly, align, fs = 6.4;
    if (type === 'T') { fs = 6; if (row < 0) { ly = y0 - 1; align = 'left'; } else { ly = y1 + 1; align = 'right'; } }
    else if (type === 'D') { fs = 6; if (row < 0) { ly = base - 9.5; align = 'left'; } else { ly = base + (row > 0 ? 19 : 10.5); align = 'right'; } }
    else if (row < 0) { ly = y0 - 1; align = 'left'; }
    else { ly = base + 19; align = 'right'; }
    ch.push({type:'text', x:cx, y:ly, rotation:Math.PI/2,
      style:{text:label, x:0, y:0, align:align, verticalAlign:'middle', fontSize:fs, fontFamily:LABEL_FONT, fill:'#333'}});
  }
  return {type:'group', children:ch};
}

function renderLine(params, api) {
  const t = api.value(2);
  const a = api.coord([api.value(0), trackLineY[t]]);
  const b = api.coord([api.value(1), trackLineY[t]]);
  return {type:'line', shape:{x1:a[0], y1:a[1], x2:b[0], y2:b[1]}, style:{stroke:'#555', lineWidth:1.6}};
}

function renderScale(params, api) {
  const y = 17.3;
  const a = api.coord([api.value(0), y]), b = api.coord([api.value(1), y]);
  return {type:'group', children:[
    {type:'line', shape:{x1:a[0], y1:a[1], x2:b[0], y2:b[1]}, style:{stroke:'#333', lineWidth:1.4}},
    {type:'line', shape:{x1:a[0], y1:a[1]-3, x2:a[0], y2:a[1]+3}, style:{stroke:'#333', lineWidth:1.4}},
    {type:'line', shape:{x1:b[0], y1:b[1]-3, x2:b[0], y2:b[1]+3}, style:{stroke:'#333', lineWidth:1.4}},
    {type:'text', x:(a[0]+b[0])/2, y:a[1]-4, style:{text:'10kb', align:'center', verticalAlign:'bottom', fontSize:10, fontFamily:'DejaVu Sans', fill:'#333'}}
  ]};
}

const chart = echarts.init(document.getElementById('c'), null, {renderer:'canvas'});
const graphics = titles.map((tt, k) => ({
  type:'text', x:400, y:titleY[k], z:10,
  style:{text:'{i|' + tt[0] + '}' + (tt[1] ? '{n|' + tt[1] + '}' : ''), align:'center', verticalAlign:'middle',
    rich:{i:{fontStyle:'italic', fontSize:16, fontFamily:'Open Sans', fill:'#111'}, n:{fontSize:16, fontFamily:'Open Sans', fill:'#111'}}}
}));
chart.setOption({
  animation:false,
  backgroundColor:'#fff',
  grid:{left:0, right:0, top:0, bottom:0},
  xAxis:{type:'value', min:-41/17, max:(800-41)/17, show:false},
  yAxis:{type:'value', min:0, max:958, inverse:true, show:false},
  graphic: graphics,
  series:[
    {type:'custom', renderItem:renderScale, data:[scaleBar], clip:false, silent:true},
    {type:'custom', renderItem:renderLine, data:lineData, clip:false, silent:true},
    {type:'custom', renderItem:renderGene, data:geneData, clip:false, silent:true}
  ]
});
</script></body></html>
